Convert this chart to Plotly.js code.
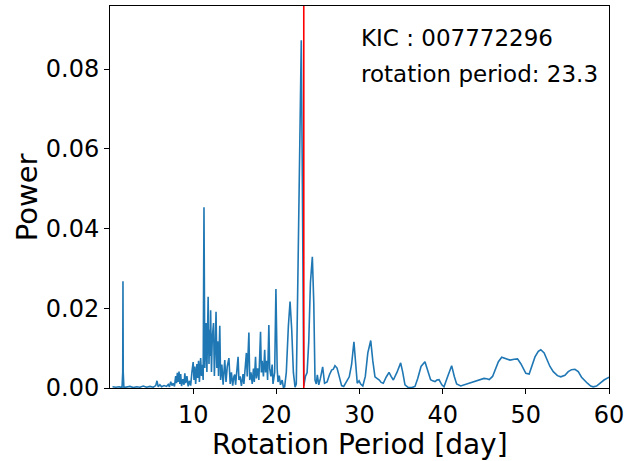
<!DOCTYPE html>
<html>
<head>
<meta charset="utf-8">
<script src="https://cdn.plot.ly/plotly-3.0.1.min.js"></script>
<style>html,body{margin:0;padding:0;background:#fff;}#chart{width:629px;height:461px;}</style>
</head>
<body>
<div id="chart"></div>
<script>
// Rotation period [day] and periodogram power
const periods = [
0.3,0.7,1.1,1.45,1.53,1.56,1.59,1.67,2.0,2.4,2.8,3.2,3.6,4.0,4.4,4.8,5.2,5.5,5.65,5.8,
6.0,6.2,6.5,6.8,7.0,7.15,7.3,7.45,7.6,7.75,7.9,8.0,8.1,8.2,8.3,8.4,8.5,8.6,8.75,8.9,
9.0,9.1,9.25,9.4,9.55,9.7,9.85,10.0,10.1,10.2,10.3,10.45,10.55,10.65,10.75,10.9,11.0,11.1,11.2,11.3,
11.4,11.5,11.55,11.65,11.8,11.9,12.0,12.05,12.1,12.2,12.3,12.45,12.55,12.65,12.75,12.85,12.95,13.05,13.2,13.3,
13.45,13.6,13.8,13.95,14.1,14.3,14.45,14.6,14.75,14.9,15.0,15.1,15.25,15.4,15.5,15.65,15.8,16.0,16.1,16.25,
16.4,16.5,16.7,16.8,16.95,17.1,17.25,17.35,17.5,17.6,17.75,17.9,18.1,18.2,18.3,18.45,18.6,18.7,18.85,18.95,
19.1,19.2,19.35,19.5,19.6,19.8,19.95,20.1,20.2,20.35,20.5,20.7,20.85,21.0,21.2,21.45,21.65,21.85,22.05,22.25,
22.4,22.6,22.85,23.0,23.1,23.2,23.3,23.5,23.7,23.9,24.1,24.33,24.5,24.65,24.8,24.93,25.1,25.3,25.57,25.8,
26.1,26.4,26.65,26.85,27.05,27.3,27.6,27.85,28.1,28.45,28.77,29.05,29.33,29.55,29.73,29.95,30.14,30.4,30.7,31.0,
31.35,31.6,31.86,32.1,32.38,32.6,32.86,33.2,33.55,33.8,34.07,34.5,34.95,35.2,35.47,35.87,36.3,36.67,37.0,37.4,
37.87,38.2,38.55,38.8,39.08,39.3,39.56,39.9,40.16,40.6,41.08,41.4,41.68,42.17,42.6,43.1,43.6,44.1,44.5,44.97,
45.3,45.6,46.0,46.3,46.7,47.1,47.6,48.1,48.6,49.0,49.4,49.7,50.0,50.4,50.8,51.1,51.5,51.8,52.2,52.5,
52.9,53.3,53.8,54.2,54.7,55.1,55.5,55.9,56.3,56.7,57.0,57.4,57.8,58.1,58.5,58.9,59.4,59.9,60.2
];
const power = [
0.0003,0.0002,0.0003,0.0001,0.004,0.0268,0.004,0.0001,0.0002,0.0004,0.0001,0.0003,0.0002,0.0005,0.0002,0.0004,0.0002,0.0006,0.0018,0.0003,
0.0008,0.0003,0.0006,0.0004,0.0009,0.0003,0.0016,0.0006,0.0012,0.0004,0.0030,0.0012,0.0038,0.0015,0.0041,0.0010,0.0035,0.0005,0.0022,0.0008,
0.0037,0.0012,0.0030,0.0004,0.0018,0.0006,0.0040,0.0065,0.0020,0.0054,0.0010,0.0060,0.0025,0.0068,0.0015,0.0075,0.0030,0.0058,0.0020,0.0453,
0.0050,0.0098,0.0163,0.0040,0.0229,0.0060,0.0146,0.0080,0.0195,0.0040,0.0127,0.0163,0.0030,0.0098,0.0191,0.0050,0.0117,0.0030,0.0156,0.0020,
0.0059,0.0008,0.0070,0.0015,0.0054,0.0075,0.0010,0.0039,0.0006,0.0029,0.0034,0.0008,0.0039,0.0078,0.0020,0.0029,0.0005,0.0035,0.0010,0.0059,
0.0088,0.0029,0.0139,0.0020,0.0039,0.0010,0.0049,0.0015,0.0078,0.0024,0.0049,0.0020,0.0141,0.0039,0.0068,0.0029,0.0096,0.0039,0.0068,0.0020,
0.0158,0.0049,0.0029,0.0059,0.0010,0.0039,0.0248,0.0049,0.0015,0.0031,0.0008,0.0020,0.0002,0.0003,0.0039,0.0156,0.0217,0.0146,0.0039,0.0002,
0.0010,0.0290,0.0740,0.0872,0.0600,0.0120,0.0005,0.0029,0.0039,0.0117,0.0264,0.0329,0.0215,0.0020,0.0010,0.0033,0.0008,0.0024,0.0053,0.0012,
0.0015,0.0034,0.0045,0.0047,0.0056,0.0050,0.0029,0.0006,0.0004,0.0015,0.0028,0.0059,0.0116,0.0059,0.0012,0.0018,0.0010,0.0005,0.0029,0.0088,
0.0119,0.0068,0.0028,0.0024,0.0020,0.0014,0.0012,0.0027,0.0039,0.0029,0.0020,0.0039,0.0063,0.0039,0.0008,0.0001,0.0001,0.0004,0.0024,0.0054,
0.0066,0.0044,0.0021,0.0018,0.0016,0.0020,0.0021,0.0008,0.0003,0.0029,0.0056,0.0029,0.0010,0.0005,0.0008,0.0012,0.0014,0.0017,0.0020,0.0024,
0.0023,0.0021,0.0029,0.0045,0.0066,0.0077,0.0073,0.0070,0.0072,0.0073,0.0061,0.0047,0.0037,0.0035,0.0059,0.0078,0.0092,0.0096,0.0088,0.0073,
0.0054,0.0041,0.0031,0.0028,0.0032,0.0041,0.0046,0.0047,0.0041,0.0027,0.0020,0.0012,0.0005,0.0003,0.0005,0.0012,0.0020,0.0026,0.0028
];
const kic = "007772296";
const rotPeriod = 23.3;
const xTicks = [10, 20, 30, 40, 50, 60];
const yTicks = [0.00, 0.02, 0.04, 0.06, 0.08];

const font = "DejaVu Sans, sans-serif";
const trace = {
  x: periods, y: power, type: "scatter", mode: "lines",
  line: {color: "#1f77b4", width: 1.6},
  hoverinfo: "skip"
};
const layout = {
  width: 629, height: 461,
  margin: {l: 110, r: 20, t: 6, b: 73},
  paper_bgcolor: "#fff", plot_bgcolor: "#fff",
  showlegend: false,
  font: {family: font, color: "#000"},
  xaxis: {
    range: [0, 60], tickvals: xTicks, ticks: "outside", ticklen: 5, tickwidth: 1, tickcolor: "#000",
    showline: true, linecolor: "#000", linewidth: 1, mirror: true, showgrid: false, zeroline: false,
    tickfont: {size: 24, family: font, color: "#000"}
  },
  yaxis: {
    range: [0, 0.0958], tickvals: yTicks, tickformat: ".2f", ticks: "outside", ticklen: 5, tickwidth: 1, tickcolor: "#000",
    showline: true, linecolor: "#000", linewidth: 1, mirror: true, showgrid: false, zeroline: false,
    tickfont: {size: 24, family: font, color: "#000"}
  },
  shapes: [{
    type: "line", xref: "x", yref: "paper", x0: rotPeriod, x1: rotPeriod, y0: 0, y1: 1,
    line: {color: "#ff0000", width: 1.6}
  }],
  annotations: [
    {xref: "paper", yref: "paper", x: 0.5, y: -0.148, xanchor: "center", yanchor: "middle",
     text: "Rotation Period [day]", showarrow: false, font: {size: 28, family: font, color: "#000"}},
    {xref: "paper", yref: "paper", x: -0.166, y: 0.5, xanchor: "center", yanchor: "middle", textangle: -90,
     text: "Power", showarrow: false, font: {size: 29, family: font, color: "#000"}},
    {xref: "paper", yref: "paper", x: 0.499, y: 0.916, xanchor: "left", yanchor: "middle",
     text: "KIC : " + kic, showarrow: false, font: {size: 23, family: font, color: "#000"}},
    {xref: "paper", yref: "paper", x: 0.499, y: 0.822, xanchor: "left", yanchor: "middle",
     text: "rotation period: " + rotPeriod, showarrow: false, font: {size: 23, family: font, color: "#000"}}
  ]
};
Plotly.newPlot("chart", [trace], layout, {staticPlot: true, displayModeBar: false});
</script>
</body>
</html>
